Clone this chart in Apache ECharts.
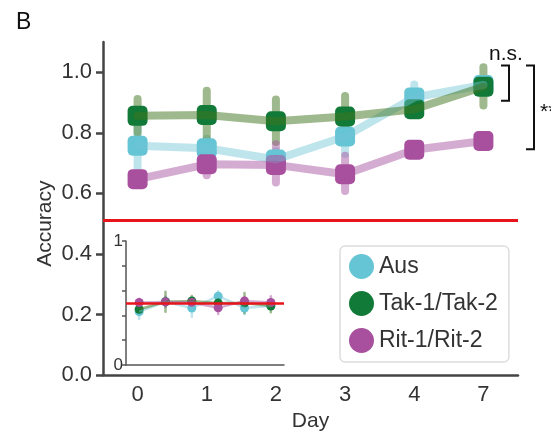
<!DOCTYPE html>
<html>
<head>
<meta charset="utf-8">
<script src="https://cdn.jsdelivr.net/npm/echarts@6/dist/echarts.min.js"></script>
<style>html,body{margin:0;padding:0;background:#fff;}#c{width:551px;height:431px;}</style>
</head>
<body>
<div id="c"></div>
<script>
// ---- data ----
const days = ['0', '1', '2', '3', '4', '7'];
const yTicks = [0, 0.2, 0.4, 0.6, 0.8, 1.0];
const chance = 0.507;

const ausMean = [0.757, 0.749, 0.712, 0.788, 0.917, 0.958];
const ausLow  = [0.675, 0.720, 0.690, 0.730, 0.880, 0.940];
const ausHigh = [0.825, 0.780, 0.740, 0.850, 0.960, 0.970];

const takMean = [0.856, 0.859, 0.838, 0.854, 0.878, 0.952];
const takLow  = [0.800, 0.770, 0.770, 0.800, 0.860, 0.890];
const takHigh = [0.912, 0.939, 0.910, 0.922, 0.895, 1.017];

const ritMean = [0.647, 0.696, 0.694, 0.663, 0.744, 0.773];
const ritLow  = [0.630, 0.660, 0.636, 0.608, 0.735, 0.765];
const ritHigh = [0.665, 0.730, 0.762, 0.724, 0.755, 0.780];

// inset (shuffled control)
const insetTicks = [0, 0.2, 0.4, 0.6, 0.8, 1.0];
const insetLabels = [0, 1];
const insetChance = 0.5;
const insAusMean = [0.430, 0.510, 0.460, 0.555, 0.460, 0.477];
const insAusErr  = [0.060, 0.040, 0.070, 0.040, 0.050, 0.030];
const insTakMean = [0.450, 0.510, 0.517, 0.500, 0.500, 0.475];
const insTakErr  = [0.040, 0.080, 0.040, 0.050, 0.080, 0.050];
const insRitMean = [0.504, 0.509, 0.504, 0.461, 0.517, 0.504];
const insRitErr  = [0.030, 0.040, 0.030, 0.050, 0.030, 0.050];

// annotations
const brackets = [
  {x: 509, top: 1.022, bottom: 0.906, label: 'n.s.', lx: 506, ly: 1.06},
  {x: 534, top: 1.022, bottom: 0.746, label: '**', lx: 540, ly: 0.868}
];

// ---- styles ----
const FONT = 'Liberation Sans, Arial, sans-serif';
const TXT = '#333';
const AX = '#444';
const groups = [
  {name: 'Aus', mean: ausMean, low: ausLow, high: ausHigh, im: insAusMean, ie: insAusErr,
   marker: '#66c5d5', line: 'rgba(110,196,212,0.45)'},
  {name: 'Tak-1/Tak-2', mean: takMean, low: takLow, high: takHigh, im: insTakMean, ie: insTakErr,
   marker: '#127a38', line: 'rgba(62,115,28,0.5)'},
  {name: 'Rit-1/Rit-2', mean: ritMean, low: ritLow, high: ritHigh, im: insRitMean, ie: insRitErr,
   marker: '#a8509e', line: 'rgba(168,82,158,0.48)'}
];

function errSeries(xi, yi, lows, highs, color, width) {
  return {
    type: 'custom', xAxisIndex: xi, yAxisIndex: yi, silent: true,
    data: lows.map((l, i) => [i, l, highs[i]]),
    renderItem: function (params, api) {
      const a = api.coord([api.value(0), api.value(1)]);
      const b = api.coord([api.value(0), api.value(2)]);
      return {type: 'line', shape: {x1: a[0], y1: a[1], x2: b[0], y2: b[1]},
        style: {stroke: color, lineWidth: width, lineCap: 'round'}};
    }
  };
}

const series = [];
groups.forEach((g, gi) => {
  const ln = {
    type: 'line', xAxisIndex: 0, yAxisIndex: 0, symbol: 'none', silent: true,
    data: g.mean, lineStyle: {color: g.line, width: 8, cap: 'round', join: 'round'}
  };
  if (gi === 0) {
    ln.markLine = {silent: true, symbol: ['none', 'none'], label: {show: false},
      lineStyle: {color: '#e8141c', width: 3, type: 'solid'}, data: [{yAxis: chance}]};
  }
  series.push(ln);
  series.push(errSeries(0, 0, g.low, g.high, g.line, 8));
  series.push({
    type: 'scatter', name: g.name, xAxisIndex: 0, yAxisIndex: 0, symbol: 'roundRect', symbolSize: 20,
    data: g.mean, itemStyle: {color: g.marker, opacity: 1}
  });
});
// inset
groups.forEach((g, gi) => {
  const ln = {
    type: 'line', xAxisIndex: 1, yAxisIndex: 1, symbol: 'none', silent: true,
    data: g.im, lineStyle: {color: g.line, width: 2.5}
  };
  series.push(ln);
  series.push(errSeries(1, 1, g.im.map((m, i) => m - g.ie[i]), g.im.map((m, i) => m + g.ie[i]), g.line, 2.5));
  const sc = {
    type: 'scatter', name: g.name + ' (inset)', xAxisIndex: 1, yAxisIndex: 1, symbol: 'circle', symbolSize: 9,
    data: g.im, itemStyle: {color: g.marker, opacity: 1}, silent: true
  };
  if (gi === 1) {
    sc.markLine = {silent: true, symbol: ['none', 'none'], label: {show: false},
      lineStyle: {color: '#e8141c', width: 2.5, type: 'solid'}, data: [{yAxis: insetChance}]};
  }
  series.push(sc);
});

const chart = echarts.init(document.getElementById('c'), null, {renderer: 'canvas'});
const option = {
  animation: false,
  backgroundColor: '#fff',
  textStyle: {fontFamily: FONT},
  grid: [
    {left: 103, right: 33, top: 42, bottom: 56, containLabel: false, outerBoundsMode: 'none'},
    {left: 126, right: 267, top: 241, bottom: 66, containLabel: false, outerBoundsMode: 'none'}
  ],
  xAxis: [
    {type: 'category', gridIndex: 0, data: days, boundaryGap: true,
     name: 'Day', nameLocation: 'middle', nameGap: 33,
     nameTextStyle: {fontSize: 21, color: TXT, fontFamily: FONT},
     axisLine: {lineStyle: {color: AX, width: 2.5}},
     axisTick: {alignWithLabel: true, length: 7, lineStyle: {color: AX, width: 2.5}},
     axisLabel: {fontSize: 22, color: TXT, margin: 9, fontFamily: FONT},
     splitLine: {show: false}},
    {type: 'category', gridIndex: 1, data: days, boundaryGap: true,
     axisLine: {lineStyle: {color: '#555', width: 1.5}},
     axisTick: {alignWithLabel: true, length: 4, lineStyle: {color: '#555', width: 1.5}},
     axisLabel: {show: false}, splitLine: {show: false}}
  ],
  yAxis: [
    {type: 'value', gridIndex: 0, min: 0, max: 1.1, interval: 0.2,
     axisLine: {show: true, lineStyle: {color: AX, width: 2.5}},
     axisTick: {show: true, length: 7, customValues: yTicks, lineStyle: {color: AX, width: 2.5}},
     axisLabel: {fontSize: 22, color: TXT, margin: 11, fontFamily: FONT, customValues: yTicks,
       formatter: v => v.toFixed(1)},
     splitLine: {show: false}},
    {type: 'value', gridIndex: 1, min: 0, max: 1, interval: 0.2,
     axisLine: {show: true, lineStyle: {color: '#555', width: 1.5}},
     axisTick: {show: true, length: 4, customValues: insetTicks, lineStyle: {color: '#555', width: 1.5}},
     axisLabel: {fontSize: 17, color: TXT, margin: 3, fontFamily: FONT, customValues: insetLabels,
       formatter: v => String(v)},
     splitLine: {show: false}}
  ],
  legend: {
    data: groups.map(g => g.name), orient: 'vertical', left: 340, top: 246,
    icon: 'circle', itemWidth: 25, itemHeight: 25, itemGap: 12,
    padding: [8, 11, 9, 9], borderColor: '#ddd', borderWidth: 1.5, borderRadius: 5,
    backgroundColor: '#fff', selectedMode: false,
    textStyle: {fontSize: 23, color: TXT, fontFamily: FONT}
  },
  series: series
};
chart.setOption(option);

// annotations computed from the axis scale
const yPix = v => chart.convertToPixel({yAxisIndex: 0}, v);
const graphics = [
  {type: 'text', left: 16, top: 11, style: {text: 'B', fontSize: 23, fill: '#111', fontFamily: FONT}},
  {type: 'text', x: 45, y: yPix(0.5), rotation: Math.PI / 2,
   style: {text: 'Accuracy', fontSize: 21, fill: TXT, fontFamily: FONT, align: 'center', verticalAlign: 'middle'}}
];
brackets.forEach((b, i) => {
  const t = yPix(b.top), bt = yPix(b.bottom);
  graphics.push({type: 'polyline', shape: {points: [[b.x - 8, t], [b.x, t], [b.x, bt], [b.x - 8, bt]]},
    style: {stroke: '#111', lineWidth: 2, fill: null}});
  graphics.push({type: 'text', x: b.lx, y: yPix(b.ly),
    style: {text: b.label, fontSize: 21, fill: '#111', fontFamily: FONT,
      align: i === 0 ? 'center' : 'left', verticalAlign: 'middle'}});
});
chart.setOption({graphic: graphics});
</script>
</body>
</html>
